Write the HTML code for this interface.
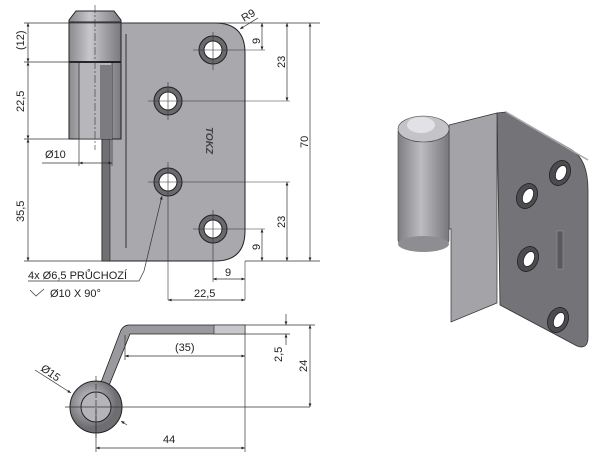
<!DOCTYPE html>
<html><head><style>
html,body{margin:0;padding:0;background:#fff;}
svg{display:block;font-family:"Liberation Sans",sans-serif;}
text{font-size:11px;fill:#222;}
</style></head><body>
<svg width="600" height="463" viewBox="0 0 600 463" xmlns="http://www.w3.org/2000/svg">
<defs>
<linearGradient id="bar" x1="0" x2="1"><stop offset="0" stop-color="#8a8a8e"/><stop offset="0.4" stop-color="#c8c8cc"/><stop offset="1" stop-color="#7a7a7e"/></linearGradient>
<linearGradient id="bar3" x1="0" x2="1"><stop offset="0" stop-color="#7e7e82"/><stop offset="0.45" stop-color="#bdbdc1"/><stop offset="1" stop-color="#78787c"/></linearGradient>
<radialGradient id="circ" cx="0.4" cy="0.4"><stop offset="0" stop-color="#d0d0d4"/><stop offset="1" stop-color="#6e6e72"/></radialGradient>
<marker id="a" viewBox="0 0 10 10" refX="10" refY="5" markerWidth="7" markerHeight="5" orient="auto-start-reverse"><path d="M0,1 L10,5 L0,9z" fill="#222"/></marker>
</defs>
<path d="M102,23 L215,23 Q245,23 245,53 L245,231 Q245,261 215,261 L102,261 Z" fill="#a8a8ad" stroke="#222" stroke-width="1"/>
<rect x="102" y="139" width="8" height="122" fill="#6f6f74" stroke="#222" stroke-width="0.6"/>
<line x1="126" y1="34" x2="126" y2="248" stroke="#333" stroke-width="1"/>
<path d="M69,20 L76,11 L114,11 L121,20 L121,139 L69,139 Z" fill="url(#bar)" stroke="#222"/>
<line x1="69" y1="22" x2="121" y2="22" stroke="#222"/>
<rect x="79" y="62" width="33" height="77" fill="#b7b7bb" stroke="#222" stroke-width="0.7"/>
<rect x="100" y="65" width="12" height="74" fill="#7c7c80"/>
<line x1="69" y1="62" x2="121" y2="62" stroke="#222" stroke-width="2"/>
<line x1="95" y1="5" x2="95" y2="150" stroke="#333" stroke-width="0.6" stroke-dasharray="8,2,2,2"/>
<g stroke="#222" stroke-width="1">
<circle cx="213" cy="50" r="14" fill="#6a6a6e"/><circle cx="213" cy="50" r="9" fill="#fff"/>
<circle cx="168" cy="101" r="14" fill="#6a6a6e"/><circle cx="168" cy="101" r="9" fill="#fff"/>
<circle cx="168" cy="182" r="14" fill="#6a6a6e"/><circle cx="168" cy="182" r="9" fill="#fff"/>
<circle cx="213" cy="229" r="14" fill="#6a6a6e"/><circle cx="213" cy="229" r="9" fill="#fff"/>
</g>
<g stroke="#333" stroke-width="0.6">
<line x1="193" y1="50" x2="265" y2="50"/><line x1="213" y1="32" x2="213" y2="70"/>
<line x1="148" y1="101" x2="290" y2="101"/><line x1="168" y1="82" x2="168" y2="120"/>
<line x1="148" y1="182" x2="290" y2="182"/><line x1="168" y1="162" x2="168" y2="300"/>
<line x1="193" y1="229" x2="265" y2="229"/><line x1="213" y1="210" x2="213" y2="282"/>
<line x1="245" y1="261" x2="245" y2="300"/>
</g>
<text x="203" y="138" transform="rotate(90 210 134)" style="font-size:10px;font-weight:bold;font-style:italic;fill:#444">TOKZ</text>
<g stroke="#333" stroke-width="0.7" fill="none">
<line x1="24" y1="23" x2="320" y2="23"/>
<line x1="24" y1="62" x2="100" y2="62"/>
<line x1="24" y1="139" x2="69" y2="139"/>
<line x1="24" y1="261" x2="102" y2="261"/>
<line x1="245" y1="261" x2="320" y2="261"/>
<line x1="28" y1="23" x2="28" y2="62" marker-start="url(#a)" marker-end="url(#a)"/>
<line x1="28" y1="62" x2="28" y2="139" marker-start="url(#a)" marker-end="url(#a)"/>
<line x1="28" y1="139" x2="28" y2="261" marker-start="url(#a)" marker-end="url(#a)"/>
<line x1="42" y1="163" x2="79" y2="163"/>
<line x1="79" y1="163" x2="112" y2="163" marker-start="url(#a)" marker-end="url(#a)"/>
<line x1="79" y1="139" x2="79" y2="166"/><line x1="112" y1="139" x2="112" y2="166"/>
<line x1="262" y1="23" x2="262" y2="50" marker-start="url(#a)" marker-end="url(#a)"/>
<line x1="287" y1="23" x2="287" y2="101" marker-start="url(#a)" marker-end="url(#a)"/>
<line x1="310" y1="23" x2="310" y2="261" marker-start="url(#a)" marker-end="url(#a)"/>
<line x1="287" y1="182" x2="287" y2="261" marker-start="url(#a)" marker-end="url(#a)"/>
<line x1="262" y1="229" x2="262" y2="261" marker-start="url(#a)" marker-end="url(#a)"/>
<line x1="213" y1="279" x2="245" y2="279" marker-start="url(#a)" marker-end="url(#a)"/>
<line x1="168" y1="300" x2="245" y2="300" marker-start="url(#a)" marker-end="url(#a)"/>
<line x1="240" y1="29" x2="258" y2="18" marker-start="url(#a)"/>
<path d="M139,281 L144,271 L162,196" marker-end="url(#a)"/>
<line x1="28" y1="281" x2="139" y2="281"/>
<path d="M30,290 L36,296 L44,289"/>
</g>
<text x="244" y="22" transform="rotate(-30 244 22)">R9</text>
<text transform="translate(24,50) rotate(-90)">(12)</text>
<text transform="translate(24,112) rotate(-90)">22,5</text>
<text transform="translate(24,222) rotate(-90)">35,5</text>
<text x="45" y="158">Ø10</text>
<text transform="translate(260,44) rotate(-90)">9</text>
<text transform="translate(285,68) rotate(-90)">23</text>
<text transform="translate(308,148) rotate(-90)">70</text>
<text transform="translate(285,228) rotate(-90)">23</text>
<text transform="translate(260,250) rotate(-90)">9</text>
<text x="225" y="276">9</text>
<text x="194" y="297">22,5</text>
<text x="28" y="279">4x Ø6,5 PRŮCHOZÍ</text>
<text x="50" y="297">Ø10 X 90°</text>
<path d="M100,385 L121,330 Q124,325 129,325 L245,325 L245,334 L130,334 L108,388 Z" fill="#9a9a9e" stroke="#222" stroke-width="0.8"/>
<rect x="214" y="325" width="31" height="9" fill="#c8c8cc" stroke="#222" stroke-width="0.6"/>
<circle cx="96" cy="407" r="26" fill="url(#circ)" stroke="#222"/>
<circle cx="96" cy="407" r="15" fill="#b5b5b9" stroke="#222"/>
<g stroke="#333" stroke-width="0.7" fill="none">
<line x1="65" y1="407" x2="310" y2="407"/><line x1="96" y1="376" x2="96" y2="440" stroke-dasharray="6,2"/>
<line x1="245" y1="334" x2="245" y2="452"/>
<line x1="245" y1="325" x2="315" y2="325"/><line x1="245" y1="334" x2="290" y2="334"/>
<line x1="125" y1="335" x2="125" y2="360"/>
<line x1="125" y1="356" x2="245" y2="356" marker-start="url(#a)" marker-end="url(#a)"/>
<line x1="286" y1="314" x2="286" y2="325" marker-end="url(#a)"/>
<line x1="286" y1="345" x2="286" y2="334" marker-end="url(#a)"/>
<line x1="310" y1="325" x2="310" y2="407" marker-start="url(#a)" marker-end="url(#a)"/>
<line x1="96" y1="448" x2="245" y2="448" marker-start="url(#a)" marker-end="url(#a)"/>
<line x1="96" y1="410" x2="96" y2="452"/>
<line x1="35" y1="370" x2="71" y2="393" marker-end="url(#a)"/>
<line x1="127" y1="425" x2="121" y2="421" marker-end="url(#a)"/>
</g>
<text x="175" y="351">(35)</text>
<text transform="translate(282,362) rotate(-90)">2,5</text>
<text transform="translate(307,372) rotate(-90)">24</text>
<text x="163" y="443">44</text>
<text transform="translate(40,370) rotate(35)">Ø15</text>
<path d="M497,113 L506,112 L572,150 Q588,160 588,190 L588,337 Q588,350 577,346 L500,305 Z" fill="#747478" stroke="#333" stroke-width="0.8"/>
<line x1="506" y1="112" x2="588" y2="160" stroke="#aaa" stroke-width="1.5"/>
<path d="M449,125 L497,113 L497,303 L451,322 L451,229 L449,229 Z" fill="#a4a4a8" stroke="#333" stroke-width="0.7"/>
<rect x="398" y="128" width="51" height="116" rx="4" fill="url(#bar3)" stroke="#444" stroke-width="0.6"/>
<ellipse cx="423.5" cy="244" rx="25.5" ry="8" fill="#8e8e92"/>
<ellipse cx="423.5" cy="129" rx="25.5" ry="13" fill="#c4c4c8" stroke="#444" stroke-width="0.6"/>
<ellipse cx="421" cy="125" rx="14" ry="8" fill="#e2e2e6"/>
<g stroke="#222" stroke-width="0.8">
<ellipse cx="560" cy="173" rx="10" ry="13" fill="#4c4c50" transform="rotate(25 560 173)"/><ellipse cx="561" cy="173" rx="5" ry="8" fill="#fff" transform="rotate(25 561 173)"/>
<ellipse cx="527" cy="196" rx="10" ry="13" fill="#4c4c50" transform="rotate(25 527 196)"/><ellipse cx="528" cy="196" rx="5" ry="8" fill="#fff" transform="rotate(25 528 196)"/>
<ellipse cx="528" cy="259" rx="10" ry="13" fill="#4c4c50" transform="rotate(25 528 259)"/><ellipse cx="529" cy="259" rx="5" ry="8" fill="#fff" transform="rotate(25 529 259)"/>
<ellipse cx="558" cy="320" rx="10" ry="13" fill="#4c4c50" transform="rotate(25 558 320)"/><ellipse cx="559" cy="320" rx="5" ry="8" fill="#fff" transform="rotate(25 559 320)"/>
</g>
<rect x="557" y="231" width="6" height="38" fill="#5a5a5e" stroke="#999" stroke-width="0.5"/>
</svg>
</body></html>
